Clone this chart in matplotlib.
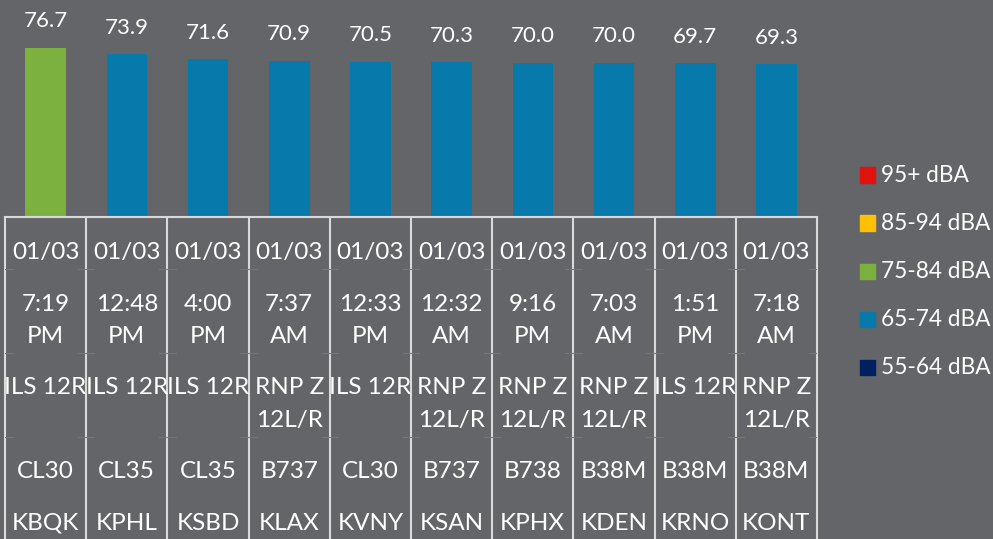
import numpy as np
import matplotlib.pyplot as plt
from matplotlib.patches import Rectangle

# data
values = [76.7, 73.9, 71.6, 70.9, 70.5, 70.3, 70.0, 70.0, 69.7, 69.3]
bands = ["75-84", "65-74", "65-74", "65-74", "65-74", "65-74", "65-74", "65-74", "65-74", "65-74"]
dates = ["01/03"] * 10
times = ["7:19\nPM", "12:48\nPM", "4:00\nPM", "7:37\nAM", "12:33\nPM",
         "12:32\nAM", "9:16\nPM", "7:03\nAM", "1:51\nPM", "7:18\nAM"]
procedures = ["ILS 12R", "ILS 12R", "ILS 12R", "RNP Z\n12L/R", "ILS 12R",
              "RNP Z\n12L/R", "RNP Z\n12L/R", "RNP Z\n12L/R", "ILS 12R", "RNP Z\n12L/R"]
aircraft = ["CL30", "CL35", "CL35", "B737", "CL30", "B737", "B738", "B38M", "B38M", "B38M"]
airports = ["KBQK", "KPHL", "KSBD", "KLAX", "KVNY", "KSAN", "KPHX", "KDEN", "KRNO", "KONT"]

legend_labels = ["95+ dBA", "85-94 dBA", "75-84 dBA", "65-74 dBA", "55-64 dBA"]
legend_colors = ["#E2130F", "#FFC000", "#7CB13F", "#0779AB", "#002060"]
band_colors = {"95+": "#E2130F", "85-94": "#FFC000", "75-84": "#7CB13F",
               "65-74": "#0779AB", "55-64": "#002060"}

BG = "#646569"
GRID = "#D9D9D9"
W, H = 993, 539

plt.rcParams['font.family'] = ['Lato', 'DejaVu Sans']

fig = plt.figure(figsize=(W / 100, H / 100), dpi=100, facecolor=BG)

# bar area: x 5..817 px, y 0..217 px from top
ax = fig.add_axes([5 / W, (H - 217) / H, 812 / W, 217 / H])
ax.set_facecolor(BG)
x = np.arange(len(values))
cols = [band_colors[b] for b in bands]
ax.bar(x, values, width=0.5, color=cols)
for xi, v in zip(x, values):
    ax.annotate(f"{v:.1f}", (xi, v), xytext=(0, 19), textcoords="offset points",
                ha="center", va="center", color="white", fontsize=16)
ax.set_xlim(-0.5, len(values) - 0.5)
ax.set_ylim(0, 98.4)
ax.axis("off")

# category table below
axt = fig.add_axes([5 / W, 0, 812 / W, (H - 217) / H])
axt.set_facecolor(BG)
axt.set_xlim(-0.5, len(values) - 0.5)
axt.set_ylim(H - 217, 0)
axt.axis("off")

for i in range(len(values) + 1):
    axt.plot([i - 0.5, i - 0.5], [0, H - 217], color=GRID, lw=1.5, clip_on=False,
             solid_capstyle="butt")
axt.plot([-0.5, len(values) - 0.5], [0, 0], color=GRID, lw=1.5, clip_on=False)

# faint row separators near the column lines
for yy in [52, 136, 220]:
    for i in range(len(values) + 1):
        axt.plot([i - 0.6, i - 0.4], [yy, yy], color="#76777b", lw=0.8)

rows = [(dates, 35), (times, 87), (procedures, 171), (aircraft, 255), (airports, 306)]
for labels, y0 in rows:
    for xi, lab in zip(x, labels):
        for k, line in enumerate(lab.split("\n")):
            axt.text(xi, y0 + 32 * k, line, ha="center", va="center",
                     color="white", fontsize=17.5)

# legend
for k, (lab, c) in enumerate(zip(legend_labels, legend_colors)):
    yc = 175 + 48 * k
    fig.patches.append(Rectangle((860 / W, (H - yc - 7.5) / H), 15 / W, 15 / H,
                                 transform=fig.transFigure, color=c))
    fig.text(881 / W, (H - yc) / H, lab, ha="left", va="center", color="white",
             fontsize=16.3)

fig.savefig("out.png", dpi=100, facecolor=BG)
